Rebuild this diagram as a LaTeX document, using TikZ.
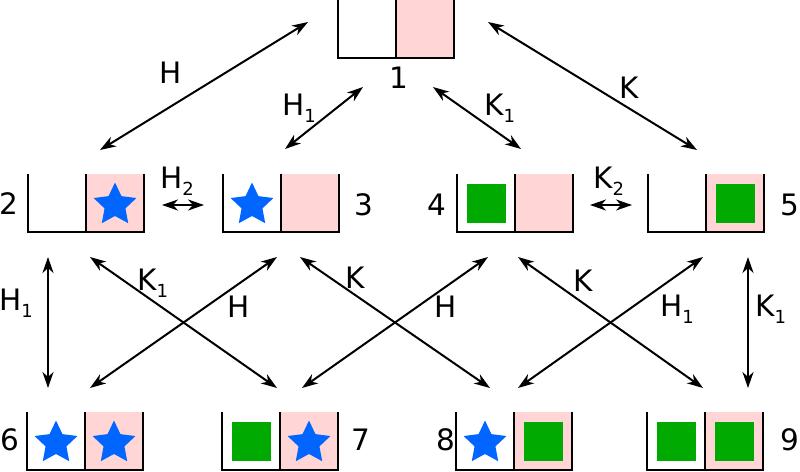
\documentclass[tikz,border=0pt]{standalone}
\usepackage{fontspec}
\setmainfont{DejaVu Sans}
\usetikzlibrary{arrows.meta,shapes.geometric}
\definecolor{pinkc}{HTML}{FFD5D5}
\definecolor{starblue}{HTML}{0066FF}
\definecolor{greenc}{HTML}{00AA00}
\newcommand\labsub[2]{#1\raisebox{-7pt}{\fontsize{18}{18}\selectfont #2}}
\newcommand\mybox[3]{%
  \fill[pinkc] (#2+58,#3) rectangle (#2+116,#3+58);
  \node[boxnode] (#1) at (#2+58,#3+29) {};
  \draw[wall] (#2,#3) -- (#2,#3+58) -- (#2+116,#3+58) -- (#2+116,#3);
  \draw[wall] (#2+58,#3) -- (#2+58,#3+58);
}
\tikzset{
  wall/.style={line width=2.4pt, line cap=butt, line join=miter},
  boxnode/.style={rectangle, minimum width=116pt, minimum height=58pt, inner sep=0},
  starb/.style={star, star points=5, star point ratio=2.05, fill=starblue, minimum size=45pt, inner sep=0, yshift=-2pt},
  sq/.style={rectangle, fill=greenc, minimum size=39pt, inner sep=0},
  lbl/.style={anchor=base west, inner sep=0, font=\fontsize{29.5}{29.5}\selectfont},
  num/.style={inner sep=0, font=\fontsize{29.5}{29.5}\selectfont},
  tip/.tip={Stealth[length=16pt,width=11pt,inset=5pt]},
  arr/.style={line width=2pt, tip-tip}
}
\begin{document}
\begin{tikzpicture}[x=1pt,y=-1pt]
\useasboundingbox (0,0) rectangle (800,471);
% boxes
\mybox{s1}{338}{0}
\mybox{s2}{28}{174}
\mybox{s3}{223}{174}
\mybox{s4}{457}{174}
\mybox{s5}{648}{174}
\mybox{s6}{27}{412}
\mybox{s7}{222}{412}
\mybox{s8}{456}{412}
\mybox{s9}{647}{412}
% contents
\node[starb] (c2r) at (28+87,174+29) {};
\node[starb] (c3l) at (223+29,174+29) {};
\node[sq] (c4l) at (457+29,174+29) {};
\node[sq] (c5r) at (648+87,174+29) {};
\node[starb] (c6l) at (27+29,412+29) {};
\node[starb] (c6r) at (27+87,412+29) {};
\node[sq] (c7l) at (222+29,412+29) {};
\node[starb] (c7r) at (222+87,412+29) {};
\node[starb] (c8l) at (456+29,412+29) {};
\node[sq] (c8r) at (456+87,412+29) {};
\node[sq] (c9l) at (647+29,412+29) {};
\node[sq] (c9r) at (647+87,412+29) {};
% numbers
\node[num] (n1) at (399,78) {1};
\node[num] (n2) at (9,204) {2};
\node[num] (n3) at (364,205) {3};
\node[num] (n4) at (437,205) {4};
\node[num] (n5) at (790,205) {5};
\node[num] (n6) at (10,440) {6};
\node[num] (n7) at (361,440) {7};
\node[num] (n8) at (446,440) {8};
\node[num] (n9) at (790,440) {9};
% arrow end points
\coordinate (a1) at (100,150); \coordinate (b1) at (308,22);
\coordinate (a2) at (285,149); \coordinate (b2) at (363,87);
\coordinate (a3) at (433,87);  \coordinate (b3) at (521,149);
\coordinate (a4) at (488,22);  \coordinate (b4) at (697,150);
\coordinate (a5) at (162,205); \coordinate (b5) at (204,205);
\coordinate (a6) at (590,205); \coordinate (b6) at (632,205);
\coordinate (a7) at (48,257);  \coordinate (b7) at (48,388);
\coordinate (a8) at (90,257);  \coordinate (b8) at (277,388);
\coordinate (a9) at (90,388);  \coordinate (b9) at (277,257);
\coordinate (a10) at (300,257); \coordinate (b10) at (490,388);
\coordinate (a11) at (302,388); \coordinate (b11) at (488,257);
\coordinate (a12) at (518,257); \coordinate (b12) at (703,388);
\coordinate (a13) at (518,388); \coordinate (b13) at (703,257);
\coordinate (a14) at (748,257); \coordinate (b14) at (748,388);
\foreach \i in {1,...,14} { \draw[arr] (a\i) -- (b\i); }
% labels
\node[lbl] (l1) at (159,83) {H};
\node[lbl] (l2) at (282,115) {\labsub{H}{1}};
\node[lbl] (l3) at (484,115) {\labsub{K}{1}};
\node[lbl] (l4) at (619,98) {K};
\node[lbl] (l5) at (160,188) {\labsub{H}{2}};
\node[lbl] (l6) at (593,188) {\labsub{K}{2}};
\node[lbl] (l7) at (-1,310) {\labsub{H}{1}};
\node[lbl] (l8) at (137,290) {\labsub{K}{1}};
\node[lbl] (l9) at (227,317) {H};
\node[lbl] (l10) at (345,288) {K};
\node[lbl] (l11) at (434,317) {H};
\node[lbl] (l12) at (573,291) {K};
\node[lbl] (l13) at (660,316) {\labsub{H}{1}};
\node[lbl] (l14) at (755,316) {\labsub{K}{1}};
\end{tikzpicture}
\end{document}
